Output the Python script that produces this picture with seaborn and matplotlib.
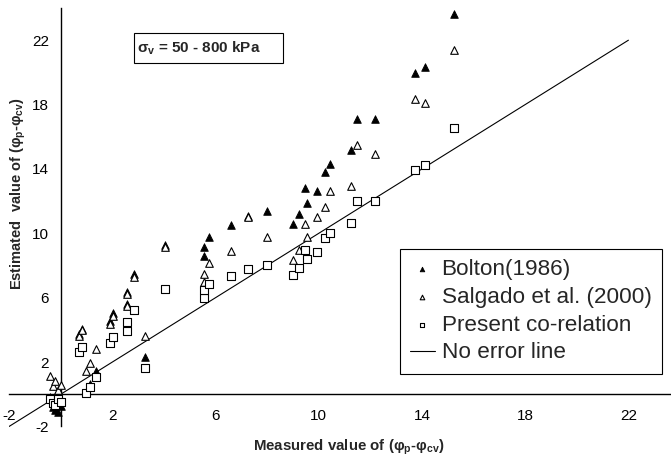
import matplotlib
matplotlib.use("Agg")
import matplotlib.pyplot as plt
import seaborn as sns
import pandas as pd
from matplotlib.patches import Rectangle

# Measured vs estimated (phi_p - phi_cv) values
measured = [-0.42, -0.30, -0.22, -0.12, 0.00,
            0.71, 0.82, 1.00, 1.15, 1.37,
            1.91, 2.02, 2.56, 2.56, 2.84,
            3.27, 4.04, 5.55, 5.55, 5.74,
            6.60, 7.27, 7.98, 9.00, 9.22,
            9.45, 9.53, 9.95, 10.25, 10.44,
            11.24, 11.50, 12.17, 13.72, 14.10,
            15.23]
bolton = [-0.15, -0.80, -1.00, -1.10, -0.70,
          3.75, 4.05, 0.15, 0.65, 1.45,
          4.55, 5.05, 5.60, 6.35, 7.45,
          2.30, 9.30, 8.60, 9.15, 9.80,
          10.50, 11.10, 11.40, 10.55, 11.20,
          12.80, 11.90, 12.60, 13.80, 14.30,
          15.20, 17.10, 17.10, 19.97, 20.34,
          23.60]
salgado = [1.15, 0.50, 0.80, 0.25, 0.60,
           3.60, 4.00, 1.45, 1.95, 2.80,
           4.35, 4.85, 5.50, 6.25, 7.30,
           3.60, 9.15, 6.95, 7.50, 8.15,
           8.90, 11.00, 9.80, 8.35, 8.95,
           10.60, 9.75, 11.00, 11.65, 12.65,
           12.95, 15.50, 14.90, 18.35, 18.10,
           21.40]
present = [-0.30, -0.55, -0.65, -0.30, -0.45,
           2.65, 2.95, 0.10, 0.45, 1.10,
           3.20, 3.55, 3.95, 4.50, 5.25,
           1.65, 6.55, 6.00, 6.45, 6.85,
           7.35, 7.80, 8.05, 7.40, 7.85,
           8.95, 8.40, 8.85, 9.70, 10.00,
           10.65, 12.00, 12.00, 13.95, 14.25,
           16.55]
line_x = [-2, 22]
line_y = [-2, 22]
ticks = [-2, 2, 6, 10, 14, 18, 22]
series_labels = ["Bolton(1986)", "Salgado et al. (2000)", "Present co-relation", "No error line"]

sns.set_style("white")
plt.rcParams["font.family"] = ["Liberation Sans", "DejaVu Sans"]
plt.rcParams["mathtext.fontset"] = "custom"
plt.rcParams["mathtext.rm"] = "Liberation Sans"
plt.rcParams["mathtext.bf"] = "Liberation Sans:bold"
plt.rcParams["mathtext.it"] = "Liberation Sans:italic"

df = pd.DataFrame({"measured": measured, "bolton": bolton,
                   "salgado": salgado, "present": present})

fig = plt.figure(figsize=(6.71, 4.61), dpi=100)
ax = fig.add_axes([9 / 671, 1 - 426.5 / 461, 662 / 671, 418.5 / 461])

sns.lineplot(x=line_x, y=line_y, ax=ax, color="black", linewidth=0.8,
             label=series_labels[3], zorder=2)
sns.scatterplot(data=df, x="measured", y="bolton", ax=ax, marker="^", s=30,
                color="black", edgecolor="black", linewidth=0.6,
                label=series_labels[0], zorder=3)
sns.scatterplot(data=df, x="measured", y="salgado", ax=ax, marker="^", s=30,
                color="white", edgecolor="black", linewidth=0.8,
                label=series_labels[1], zorder=3)
sns.scatterplot(data=df, x="measured", y="present", ax=ax, marker="s", s=26,
                color="white", edgecolor="black", linewidth=0.8,
                label=series_labels[2], zorder=3)

ax.set_xlim(-2, 23.65)
ax.set_ylim(-2, 24)
ax.set_xticks(ticks)
ax.set_yticks(ticks)
ax.set_xticklabels([str(t) for t in ticks])
ax.set_yticklabels([str(t) for t in ticks])

# axes cross at the origin
for side in ("top", "right"):
    ax.spines[side].set_visible(False)
for side in ("left", "bottom"):
    ax.spines[side].set_position(("data", 0))
    ax.spines[side].set_color("black")
    ax.spines[side].set_linewidth(1.0)
ax.tick_params(axis="both", direction="out", length=3.5, width=0.8,
               color="black", labelsize=11, labelcolor="black")
ax.tick_params(axis="x", pad=7)
ax.tick_params(axis="y", pad=5)
ax.grid(False)

ax.set_xlabel("Measured value of (φ$_\\mathbf{p}$-φ$_\\mathbf{cv}$)",
              fontsize=10.8, fontweight="bold", va="center")
ax.xaxis.set_label_coords(0.5136, -0.05)
ax.set_ylabel("Estimated  value of (φ$_\\mathbf{p}$-φ$_\\mathbf{cv}$)",
              fontsize=10.5, fontweight="bold", va="center")
ax.yaxis.set_label_coords(0.0136, 0.556)

# stress range note
ax.add_patch(Rectangle((0.189, 0.8686), 0.225, 0.0717, transform=ax.transAxes,
                       facecolor="white", edgecolor="black", linewidth=0.8,
                       zorder=4))
ax.text(0.194, 0.904, "σ$_\\mathbf{v}$ = 50 - 800 kPa", transform=ax.transAxes,
        fontsize=11, fontweight="bold", va="center", ha="left", zorder=5)

handles, labels = ax.get_legend_handles_labels()
order = [labels.index(l) for l in series_labels]
leg = ax.legend([handles[i] for i in order], [labels[i] for i in order],
                loc="upper left", bbox_to_anchor=(0.5906, 0.424),
                borderaxespad=0, fontsize=16.2, frameon=True, fancybox=False,
                shadow=False, markerscale=0.6, handlelength=1.1,
                handletextpad=0.3, labelspacing=0.3, borderpad=0.45)
leg.get_frame().set_edgecolor("black")
leg.get_frame().set_linewidth(0.8)
leg.get_frame().set_facecolor("white")
leg.get_frame().set_alpha(1)

fig.savefig("out.png", dpi=100)
